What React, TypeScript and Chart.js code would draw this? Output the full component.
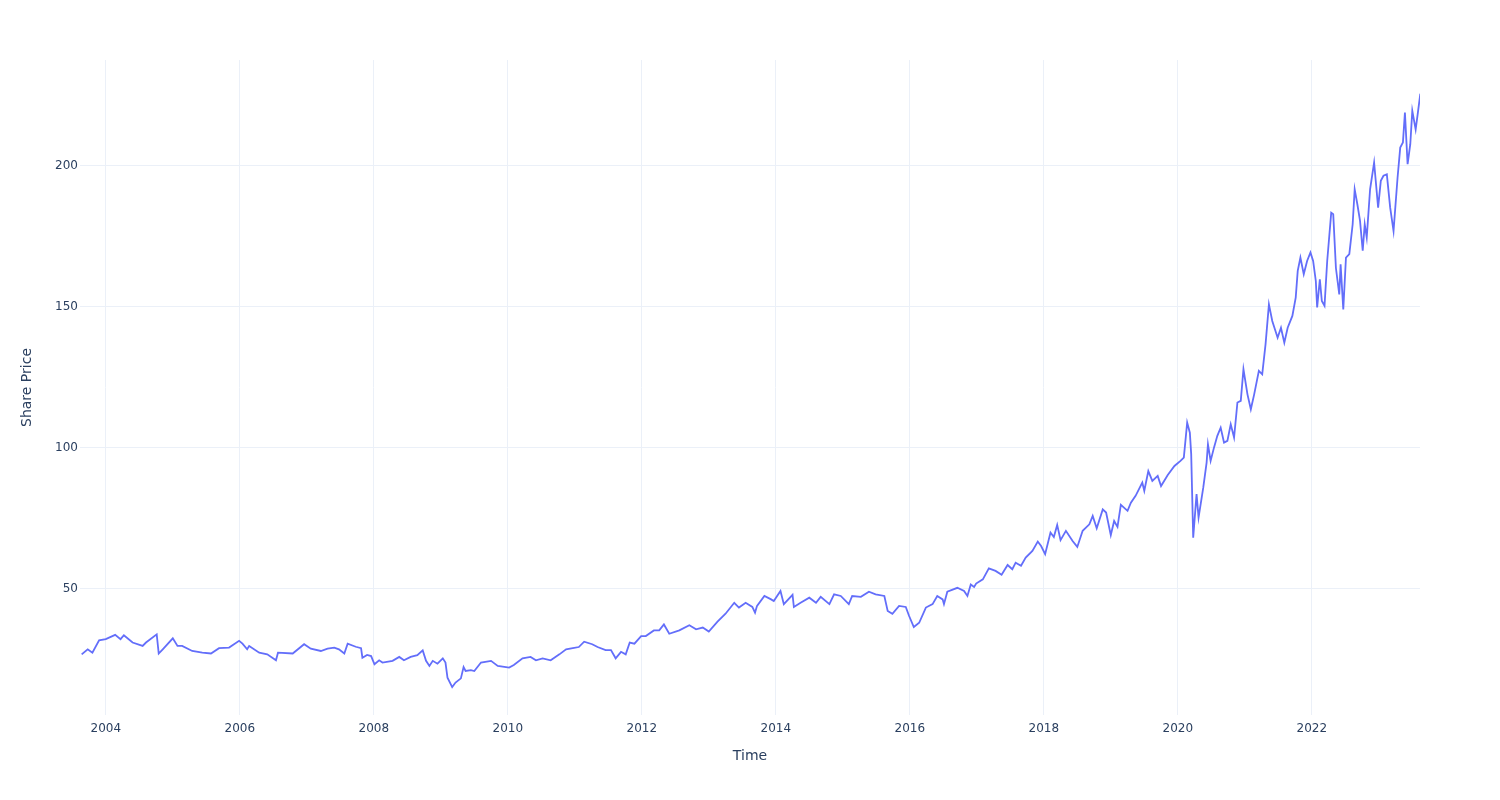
import React, { useEffect, useRef } from "react";
import { Chart, registerables } from "chart.js";

Chart.register(...registerables);

// Decimal-year time stamps and share prices
const years: number[] = [
  2003.64, 2003.73, 2003.80, 2003.90, 2004.00, 2004.14, 2004.22, 2004.27, 2004.40, 2004.55,
  2004.60, 2004.76, 2004.79, 2004.85, 2005.00, 2005.07, 2005.14, 2005.29, 2005.44, 2005.57,
  2005.69, 2005.84, 2005.99, 2006.04, 2006.11, 2006.14, 2006.29, 2006.41, 2006.54, 2006.57,
  2006.79, 2006.96, 2007.06, 2007.21, 2007.31, 2007.41, 2007.48, 2007.56, 2007.61, 2007.73,
  2007.81, 2007.83, 2007.90, 2007.96, 2008.01, 2008.08, 2008.13, 2008.28, 2008.38, 2008.45,
  2008.55, 2008.65, 2008.73, 2008.78, 2008.83, 2008.88, 2008.95, 2009.03, 2009.07, 2009.10,
  2009.17, 2009.22, 2009.30, 2009.34, 2009.37, 2009.45, 2009.50, 2009.60, 2009.75, 2009.85,
  2010.02, 2010.09, 2010.22, 2010.34, 2010.42, 2010.52, 2010.64, 2010.77, 2010.87, 2010.97,
  2011.06, 2011.14, 2011.26, 2011.34, 2011.46, 2011.54, 2011.61, 2011.69, 2011.76, 2011.82,
  2011.89, 2011.99, 2012.06, 2012.18, 2012.26, 2012.33, 2012.41, 2012.56, 2012.71, 2012.81,
  2012.91, 2013.00, 2013.13, 2013.25, 2013.38, 2013.45, 2013.55, 2013.65, 2013.69, 2013.72,
  2013.83, 2013.93, 2013.97, 2014.07, 2014.12, 2014.25, 2014.27, 2014.37, 2014.50, 2014.60,
  2014.67, 2014.80, 2014.87, 2014.97, 2015.09, 2015.14, 2015.27, 2015.39, 2015.49, 2015.62,
  2015.67, 2015.74, 2015.84, 2015.94, 2015.99, 2016.06, 2016.14, 2016.24, 2016.34, 2016.41,
  2016.49, 2016.51, 2016.56, 2016.71, 2016.81, 2016.86, 2016.91, 2016.96, 2016.99, 2017.09,
  2017.18, 2017.28, 2017.37, 2017.46, 2017.53, 2017.58, 2017.66, 2017.73, 2017.83, 2017.91,
  2017.96, 2018.02, 2018.10, 2018.15, 2018.20, 2018.25, 2018.33, 2018.43, 2018.50, 2018.58,
  2018.68, 2018.73, 2018.79, 2018.88, 2018.93, 2019.00, 2019.05, 2019.10, 2019.15, 2019.25,
  2019.30, 2019.37, 2019.47, 2019.50, 2019.56, 2019.62, 2019.70, 2019.75, 2019.85, 2019.95,
  2020.04, 2020.09, 2020.14, 2020.18, 2020.20, 2020.23, 2020.28, 2020.31, 2020.38, 2020.43,
  2020.45, 2020.49, 2020.54, 2020.59, 2020.64, 2020.69, 2020.74, 2020.79, 2020.84, 2020.89,
  2020.94, 2020.98, 2021.04, 2021.09, 2021.14, 2021.21, 2021.26, 2021.31, 2021.36, 2021.41,
  2021.49, 2021.54, 2021.59, 2021.64, 2021.71, 2021.76, 2021.79, 2021.83, 2021.88, 2021.93,
  2021.98, 2022.02, 2022.06, 2022.08, 2022.12, 2022.15, 2022.19, 2022.23, 2022.29, 2022.32,
  2022.36, 2022.41, 2022.43, 2022.47, 2022.51, 2022.56, 2022.61, 2022.64, 2022.68, 2022.72,
  2022.76, 2022.79, 2022.82, 2022.87, 2022.93, 2022.99, 2023.03, 2023.07, 2023.12, 2023.17,
  2023.22, 2023.28, 2023.32, 2023.36, 2023.39, 2023.43, 2023.47, 2023.50, 2023.55, 2023.58,
  2023.62,
];

const prices: number[] = [
  26.8, 28.6, 27.4, 31.8, 32.2, 33.7, 32.2, 33.6, 31.0, 29.8,
  31.0, 33.9, 27.1, 28.6, 32.5, 29.8, 29.8, 28.0, 27.4, 27.1,
  29.0, 29.2, 31.6, 30.6, 28.6, 29.8, 27.4, 26.8, 24.7, 27.4,
  27.1, 30.4, 28.8, 28.0, 28.8, 29.2, 28.6, 27.1, 30.6, 29.5,
  29.0, 25.6, 26.6, 26.2, 23.3, 24.7, 23.9, 24.5, 25.9, 24.7,
  25.9, 26.5, 28.2, 24.5, 22.7, 24.5, 23.5, 25.4, 23.9, 18.5,
  15.2, 16.8, 18.3, 22.3, 20.9, 21.2, 20.9, 23.9, 24.5, 22.7,
  22.1, 23.0, 25.4, 25.9, 24.7, 25.4, 24.7, 26.8, 28.6, 29.0,
  29.4, 31.3, 30.4, 29.4, 28.3, 28.3, 25.4, 27.7, 26.8, 31.0,
  30.6, 33.3, 33.3, 35.3, 35.3, 37.4, 34.1, 35.3, 37.1, 35.7,
  36.3, 34.9, 38.4, 41.2, 45.1, 43.4, 45.1, 43.6, 41.6, 44.0,
  47.5, 46.3, 45.7, 49.3, 44.6, 47.9, 43.6, 45.1, 46.9, 45.1,
  47.2, 44.6, 48.1, 47.5, 44.6, 47.5, 47.2, 49.0, 48.1, 47.5,
  42.2, 41.2, 44.0, 43.6, 40.4, 36.5, 38.0, 43.4, 44.6, 47.5,
  46.3, 44.6, 49.0, 50.4, 49.3, 47.5, 51.6, 50.7, 51.9, 53.4,
  57.3, 56.4, 55.0, 58.5, 57.0, 59.3, 58.2, 61.1, 63.5, 66.8,
  65.2, 62.3, 70.0, 68.4, 72.7, 67.3, 70.6, 67.0, 64.9, 70.6,
  72.9, 75.9, 71.5, 78.2, 77.1, 69.1, 74.1, 72.0, 79.8, 77.7,
  80.6, 83.0, 87.7, 84.8, 91.8, 88.3, 90.1, 86.5, 90.4, 93.6,
  95.4, 96.6, 109.0, 105.4, 97.8, 68.2, 83.6, 75.3, 85.9, 94.8,
  101.3, 95.4, 100.1, 104.3, 107.2, 101.9, 102.5, 108.4, 103.7, 116.1,
  116.7, 127.9, 119.0, 113.7, 119.0, 127.3, 126.1, 136.8, 150.9, 145.0,
  139.1, 142.6, 137.3, 142.6, 146.8, 153.3, 162.8, 167.5, 161.6, 166.3,
  169.3, 166.3, 159.2, 149.8, 159.8, 152.1, 150.4, 166.3, 183.4, 182.9,
  163.8, 154.4, 165.1, 149.1, 167.5, 168.7, 179.3, 191.7, 186.4, 180.5,
  169.9, 179.3, 174.6, 191.7, 201.2, 185.2, 194.7, 196.5, 197.0, 185.2,
  176.9, 195.8, 206.5, 208.3, 218.9, 200.6, 207.7, 219.5, 212.9, 218.3,
  225.6,
];

const xTickValues: number[] = [2004, 2006, 2008, 2010, 2012, 2014, 2016, 2018, 2020, 2022];
const yTickValues: number[] = [50, 100, 150, 200];

const FONT = "'DejaVu Sans', Verdana, sans-serif";
const TEXT = "#2a3f5f";
const GRID = "#EBF0F8";

export default function App() {
  const canvasRef = useRef<HTMLCanvasElement | null>(null);

  useEffect(() => {
    if (!canvasRef.current) return;
    const data = years.map((x, i) => ({ x, y: prices[i] }));
    const chart = new Chart(canvasRef.current, {
      type: "line",
      data: {
        datasets: [
          {
            data,
            borderColor: "#636efa",
            backgroundColor: "#636efa",
            borderWidth: 1.8,
            pointRadius: 0,
            tension: 0,
            fill: false,
          },
        ],
      },
      options: {
        animation: false,
        responsive: false,
        maintainAspectRatio: false,
        layout: { padding: { top: 60, right: 80, left: 0, bottom: 0 } },
        plugins: { legend: { display: false }, tooltip: { enabled: false } },
        scales: {
          x: {
            type: "linear",
            min: 2003.615,
            max: 2023.615,
            afterBuildTicks: (scale: any) => {
              scale.ticks = xTickValues.map((v) => ({ value: v }));
            },
            afterFit: (scale: any) => {
              scale.height = 85;
            },
            grid: { color: GRID, lineWidth: 1, drawTicks: false },
            border: { display: false },
            ticks: {
              color: TEXT,
              font: { family: FONT, size: 12 },
              padding: 7,
              maxRotation: 0,
              autoSkip: false,
              callback: (v: any) => String(v),
            },
            title: {
              display: true,
              text: "Time",
              color: TEXT,
              font: { family: FONT, size: 14 },
              padding: { top: 0, bottom: 35 },
            },
          },
          y: {
            type: "linear",
            min: 5.3,
            max: 237.55,
            afterBuildTicks: (scale: any) => {
              scale.ticks = yTickValues.map((v) => ({ value: v }));
            },
            afterFit: (scale: any) => {
              scale.width = 80;
            },
            grid: { color: GRID, lineWidth: 1, drawTicks: false },
            border: { display: false },
            ticks: {
              color: TEXT,
              font: { family: FONT, size: 12 },
              padding: 2,
              callback: (v: any) => String(v),
            },
            title: {
              display: true,
              text: "Share Price",
              color: TEXT,
              font: { family: FONT, size: 14 },
              padding: { top: 19, bottom: 0 },
            },
          },
        },
      },
    });
    return () => chart.destroy();
  }, []);

  return (
    <div style={{ position: "absolute", left: 0, top: 0, width: 1500, height: 800, background: "#fff" }}>
      <canvas ref={canvasRef} width={1500} height={800} style={{ width: 1500, height: 800 }} />
    </div>
  );
}
